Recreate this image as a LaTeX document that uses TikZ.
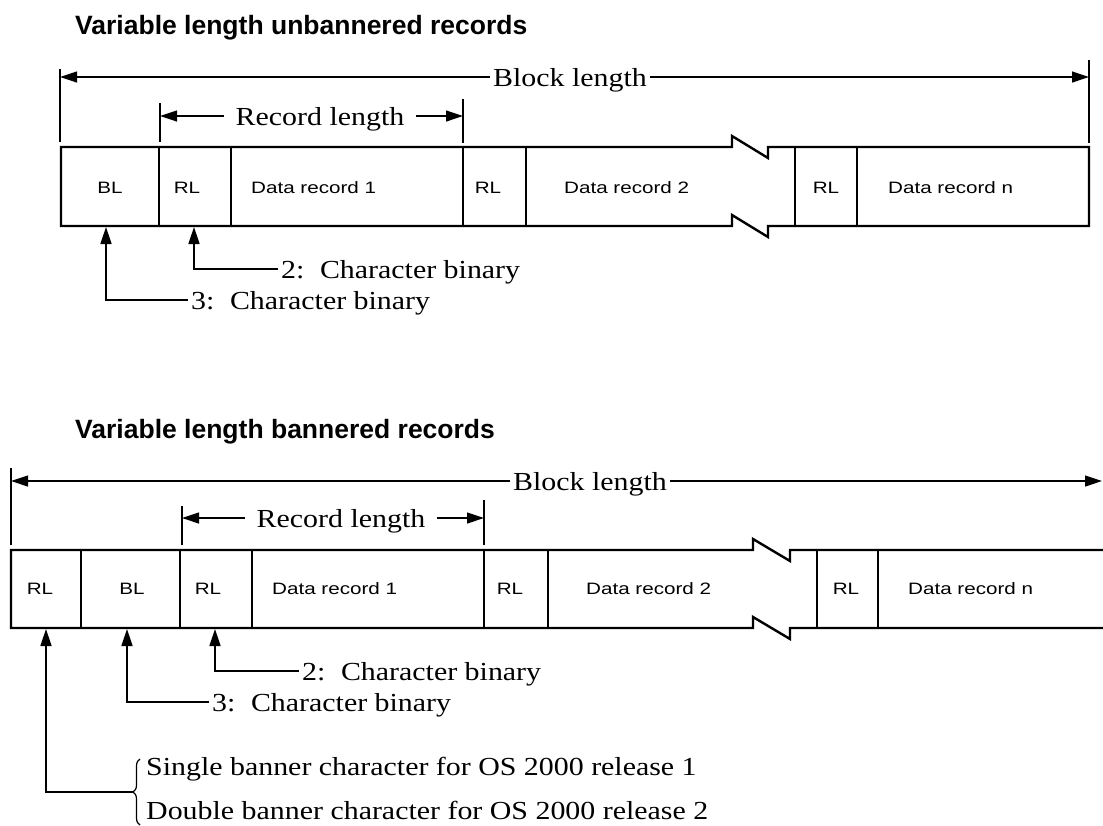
\documentclass[tikz,border=0pt]{standalone}
\usepackage{fontspec}
\setmainfont{Liberation Serif}[FakeStretch=1.15]
\newfontfamily\boxfont{Liberation Sans}[FakeStretch=1.25]
\newfontfamily\ttlfont{Liberation Sans}
\usetikzlibrary{arrows.meta,decorations.pathreplacing}
\begin{document}
\begin{tikzpicture}[x=1pt,y=-1pt,
  lbl/.style={font=\fontsize{26}{30}\selectfont,inner ysep=0pt,inner xsep=3pt,anchor=base west},
  dimlbl/.style={font=\fontsize{26}{30}\selectfont,inner ysep=0pt,inner xsep=3pt,anchor=base},
  cell/.style={font=\boxfont\fontsize{16.5}{20}\selectfont,inner sep=0pt},
  ttl/.style={font=\ttlfont\bfseries\fontsize{26.5}{30}\selectfont,inner sep=0pt,anchor=base west},
  dim/.style={line width=1.2pt},
  tip/.style={-{Triangle[length=17pt,width=11pt]}},
  outer/.style={line width=2.4pt,line join=miter},
  div/.style={line width=1.8pt},
  lead/.style={line width=1.6pt},
]
\useasboundingbox (0,0) rectangle (1103,825);

% ================= TOP DIAGRAM =================
\node[ttl] (t1) at (75,34) {Variable length unbannered records};

% block length
\node[dimlbl] (bl1) at (570,86) {Block length};
\coordinate (b1L) at (60,77);
\coordinate (b1R) at (1089,77);
\draw[dim,tip] (bl1.west|-b1L) -- (b1L);
\draw[dim,tip] (bl1.east|-b1R) -- (b1R);
\coordinate (k1a) at (60,69);  \coordinate (k1b) at (60,142);
\coordinate (k2a) at (1089,60); \coordinate (k2b) at (1089,143);
\draw[dim] (k1a) -- (k1b);
\draw[dim] (k2a) -- (k2b);

% record length
\node[dimlbl,inner xsep=12pt] (rl1) at (320,125) {Record length};
\coordinate (r1L) at (160,116);
\coordinate (r1R) at (463,116);
\draw[dim,tip] (rl1.west|-r1L) -- (r1L);
\draw[dim,tip] (rl1.east|-r1R) -- (r1R);
\coordinate (k3a) at (160,103); \coordinate (k3b) at (160,142);
\coordinate (k4a) at (463,99);  \coordinate (k4b) at (463,143);
\draw[dim] (k3a) -- (k3b);
\draw[dim] (k4a) -- (k4b);

% box
\draw[outer] (61,147) -- (732,147) -- (732,136) -- (768,158) -- (768,147) -- (1089,147)
  -- (1089,226) -- (768,226) -- (768,237) -- (732,215) -- (732,226) -- (61,226) -- cycle;
\foreach \x in {159,231,463,526,795,857}{\draw[div] (\x,147) -- (\x,226);}

\node[cell] (c1) at (110,188) {BL};
\node[cell] (c2) at (187,188) {RL};
\node[cell,anchor=west] (c3) at (251,188) {Data record 1};
\node[cell] (c4) at (488,188) {RL};
\node[cell,anchor=west] (c5) at (564,188) {Data record 2};
\node[cell] (c6) at (826,188) {RL};
\node[cell,anchor=west] (c7) at (888,188) {Data record n};

% leaders
\node[lbl] (n2) at (278,278) {2:\hspace{0.6em}Character binary};
\node[lbl] (n3) at (188,309) {3:\hspace{0.6em}Character binary};
\coordinate (aB) at (194,227); \coordinate (cB) at (194,269);
\coordinate (aA) at (106,227); \coordinate (cA) at (106,300);
\draw[lead,tip] (n2.west|-cB) -- (cB) -- (aB);
\draw[lead,tip] (n3.west|-cA) -- (cA) -- (aA);

% ================= BOTTOM DIAGRAM =================
\node[ttl] (t2) at (75,438) {Variable length bannered records};

% block length
\node[dimlbl] (bl2) at (590,490) {Block length};
\coordinate (b2L) at (11,481);
\coordinate (b2R) at (1102,481);
\draw[dim,tip] (bl2.west|-b2L) -- (b2L);
\draw[dim,tip] (bl2.east|-b2R) -- (b2R);
\coordinate (k5a) at (11,468); \coordinate (k5b) at (11,545);
\draw[dim] (k5a) -- (k5b);

% record length
\node[dimlbl,inner xsep=12pt] (rl2) at (341,527) {Record length};
\coordinate (r2L) at (182,518);
\coordinate (r2R) at (484,518);
\draw[dim,tip] (rl2.west|-r2L) -- (r2L);
\draw[dim,tip] (rl2.east|-r2R) -- (r2R);
\coordinate (k6a) at (182,506); \coordinate (k6b) at (182,545);
\coordinate (k7a) at (484,500); \coordinate (k7b) at (484,545);
\draw[dim] (k6a) -- (k6b);
\draw[dim] (k7a) -- (k7b);

% box (open at the right edge)
\draw[outer] (1103,550) -- (790,550) -- (790,561) -- (753,539) -- (753,550) -- (11,550)
  -- (11,628) -- (753,628) -- (753,617) -- (790,639) -- (790,628) -- (1103,628);
\draw[outer] (81,550) -- (81,628);
\foreach \x in {180,252,484,548,817,878}{\draw[div] (\x,550) -- (\x,628);}

\node[cell] (d1) at (40,589) {RL};
\node[cell] (d2) at (132,589) {BL};
\node[cell] (d3) at (208,589) {RL};
\node[cell,anchor=west] (d4) at (272,589) {Data record 1};
\node[cell] (d5) at (510,589) {RL};
\node[cell,anchor=west] (d6) at (586,589) {Data record 2};
\node[cell] (d7) at (846,589) {RL};
\node[cell,anchor=west] (d8) at (908,589) {Data record n};

% leaders
\node[lbl] (m2) at (299,680) {2:\hspace{0.6em}Character binary};
\node[lbl] (m3) at (209,711) {3:\hspace{0.6em}Character binary};
\coordinate (aC) at (215,629); \coordinate (cC) at (215,671);
\coordinate (aD) at (127,629); \coordinate (cD) at (127,702);
\draw[lead,tip] (m2.west|-cC) -- (cC) -- (aC);
\draw[lead,tip] (m3.west|-cD) -- (cD) -- (aD);

\node[lbl,inner xsep=0pt] (s1) at (146,775) {Single banner character for OS 2000 release 1};
\node[lbl,inner xsep=0pt] (s2) at (146,819) {Double banner character for OS 2000 release 2};
\draw[lead,line width=1.2pt,decorate,decoration={brace,amplitude=7pt}] (140,825) -- (140,759);
\coordinate (brtip) at (133,792);
\coordinate (cE) at (46,792); \coordinate (aE) at (46,629);
\draw[lead,tip] (brtip) -- (cE) -- (aE);
\end{tikzpicture}
\end{document}
